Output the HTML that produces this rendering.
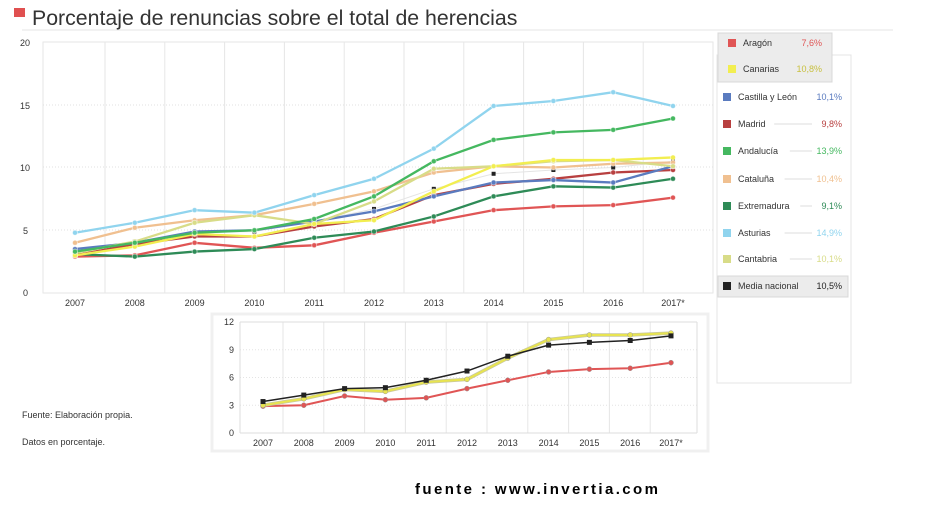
<!DOCTYPE html>
<html><head><meta charset="utf-8"><style>
body{margin:0;background:#fff;width:943px;height:506px;overflow:hidden;font-family:"Liberation Sans",sans-serif}
svg text{font-family:"Liberation Sans",sans-serif}
</style></head><body>
<svg id="s" width="943" height="506" xmlns="http://www.w3.org/2000/svg">
<rect x="14" y="8" width="11" height="9" fill="#e05050"/>
<text x="32" y="25" font-size="21.3" fill="#333">Porcentaje de renuncias sobre el total de herencias</text>
<line x1="22" y1="30" x2="893" y2="30" stroke="#e4e4e4"/>
<rect x="43" y="42" width="670" height="251" fill="none" stroke="#e6e6e6"/>
<text x="23" y="296" font-size="9" fill="#333">0</text>
<text x="23" y="234" font-size="9" fill="#333">5</text>
<text x="20" y="171" font-size="9" fill="#333">10</text>
<text x="20" y="109" font-size="9" fill="#333">15</text>
<text x="20" y="46" font-size="9" fill="#333">20</text>
<g id="main"></g>
<rect x="717" y="55" width="134" height="328" fill="none" stroke="#e4e4e4"/>
<rect x="718" y="33" width="114" height="49" fill="#ececec" stroke="#d8d8d8"/>
<rect x="718" y="276" width="130" height="21" fill="#ececec" stroke="#d8d8d8"/>
<g id="leg" font-size="9"></g>
<rect x="211" y="313" width="498" height="139" fill="#fff" stroke="#ddd"/>
<rect x="212" y="314" width="496" height="137" fill="#fff" stroke="#f0f0f0" stroke-width="3"/>
<g id="ins"></g>
<text x="22" y="418" font-size="9" fill="#333">Fuente: Elaboración propia.</text>
<text x="22" y="445" font-size="9" fill="#333">Datos en porcentaje.</text>
<text x="415" y="494" font-size="15" font-weight="bold" fill="#000" letter-spacing="2.4" font-family="Liberation Mono">fuente : www.invertia.com</text>
</svg>
<script>
var NS="http://www.w3.org/2000/svg";
function el(p,t,a,txt){var e=document.createElementNS(NS,t);for(var k in a)e.setAttribute(k,a[k]);if(txt)e.textContent=txt;p.appendChild(e);return e;}
var yrs=["2007","2008","2009","2010","2011","2012","2013","2014","2015","2016","2017*"];
var S=[
["Media nacional","#222",[3.4,4.1,4.8,4.9,5.7,6.7,8.3,9.5,9.8,10.0,10.5],"10,5%"],
["Aragón","#e05555",[2.9,3.0,4.0,3.6,3.8,4.8,5.7,6.6,6.9,7.0,7.6],"7,6%"],
["Extremadura","#2e8b57",[3.1,2.9,3.3,3.5,4.4,4.9,6.1,7.7,8.5,8.4,9.1],"9,1%"],
["Madrid","#b84040",[3.0,3.9,4.5,4.5,5.3,5.9,7.8,8.7,9.1,9.6,9.8],"9,8%"],
["Castilla y León","#5a7bbf",[3.5,4.0,4.9,5.0,5.7,6.5,7.7,8.8,9.0,8.8,10.1],"10,1%"],
["Cataluña","#f0c090",[4.0,5.2,5.8,6.2,7.1,8.1,9.6,10.1,10.0,10.3,10.4],"10,4%"],
["Cantabria","#d8dc88",[3.2,4.1,5.6,6.2,5.5,7.3,9.9,10.1,10.5,10.6,10.1],"10,1%"],
["Canarias","#f2ee50",[3.0,3.7,4.7,4.5,5.5,5.8,8.1,10.1,10.6,10.6,10.8],"10,8%"],
["Andalucía","#45b860",[3.3,4.0,4.8,5.0,5.9,7.7,10.5,12.2,12.8,13.0,13.9],"13,9%"],
["Asturias","#90d4ee",[4.8,5.6,6.6,6.4,7.8,9.1,11.5,14.9,15.3,16.0,14.9],"14,9%"]];
var m=document.getElementById("main");
for(var i=0;i<10;i++){var gx=105+i*59.8;el(m,"line",{x1:gx,y1:42,x2:gx,y2:293,stroke:"#e6e6e6"});}
[105,167,230].forEach(function(y){el(m,"line",{x1:43,y1:y,x2:713,y2:y,stroke:"#e0e0e0","stroke-dasharray":"1,2"});});
yrs.forEach(function(y,i){el(m,"text",{x:75+i*59.8,y:306,"font-size":9,"text-anchor":"middle",fill:"#333"},y);});
function X(i){return 75+i*59.8} function Y(v){return 293-v*12.55}
S.forEach(function(s,k){var pts=s[2].map(function(v,i){return X(i)+","+Y(v)}).join(" ");
 if(k==0){el(m,"polyline",{points:pts,fill:"none",stroke:"#e4e4e4","stroke-width":1});
  s[2].forEach(function(v,i){el(m,"rect",{x:X(i)-2,y:Y(v)-2,width:4,height:4,fill:"#222"});});return;}
 el(m,"polyline",{points:pts,fill:"none",stroke:s[1],"stroke-width":2.3});
 s[2].forEach(function(v,i){el(m,"circle",{cx:X(i),cy:Y(v),r:2.5,fill:s[1],stroke:"#fff","stroke-opacity":0.5});});});
var L=[["Aragón",43],["Canarias",69],["Castilla y León",97],["Madrid",124],["Andalucía",151],["Cataluña",179],["Extremadura",206],["Asturias",233],["Cantabria",259],["Media nacional",286]];
var lg=document.getElementById("leg");
L.forEach(function(l,i){var s=S.filter(function(q){return q[0]==l[0]})[0];var x0=i<2?728:723;
 el(lg,"rect",{x:x0,y:l[1]-4,width:8,height:8,fill:s[1]});
 el(lg,"text",{x:x0+15,y:l[1]+3,fill:"#333"},l[0]);
 el(lg,"text",{x:i<2?822:842,y:l[1]+3,"text-anchor":"end",fill:s[0]=="Media nacional"?"#222":(s[0]=="Canarias"?"#c8c040":s[1])},s[3]);
 if(i>=3&&i<9){el(lg,"line",{x1:x0+15+l[0].length*5.2+5,y1:l[1],x2:812,y2:l[1],stroke:"#ddd"});}
});
var g=document.getElementById("ins");
function IX(i){return 263+i*40.8} function IY(v){return 433-v*9.25}
for(var i=0;i<10;i++){var gx=283+i*40.8;el(g,"line",{x1:gx,y1:322,x2:gx,y2:433,stroke:"#e6e6e6"});}
[0,3,6,9,12].forEach(function(v){el(g,"line",{x1:240,y1:IY(v),x2:697,y2:IY(v),stroke:v==0||v==12?"#ddd":"#e4e4e4","stroke-dasharray":v==0||v==12?"":"1,2"});
 el(g,"text",{x:234,y:IY(v)+3,"font-size":9,"text-anchor":"end",fill:"#333"},String(v));});
el(g,"line",{x1:240,y1:322,x2:240,y2:433,stroke:"#ddd"});el(g,"line",{x1:697,y1:322,x2:697,y2:433,stroke:"#ddd"});
yrs.forEach(function(y,i){el(g,"text",{x:IX(i),y:446,"font-size":9,"text-anchor":"middle",fill:"#333"},y);});
[[S[1],"#e05555"],[S[7],"#e8e450"],[S[0],"#222"]].forEach(function(p,k){var pts=p[0][2].map(function(v,i){return IX(i)+","+IY(v)}).join(" ");
 if(k==1)el(g,"polyline",{points:pts,fill:"none",stroke:"#c8c8a0","stroke-width":3.5});
 el(g,"polyline",{points:pts,fill:"none",stroke:p[1],"stroke-width":k==2?1.5:2});
 p[0][2].forEach(function(v,i){if(k==2)el(g,"rect",{x:IX(i)-2.5,y:IY(v)-2.5,width:5,height:5,fill:"#222"});else el(g,"circle",{cx:IX(i),cy:IY(v),r:2.5,fill:p[1],stroke:"#999","stroke-width":0.5});});});
</script>
</body></html>
